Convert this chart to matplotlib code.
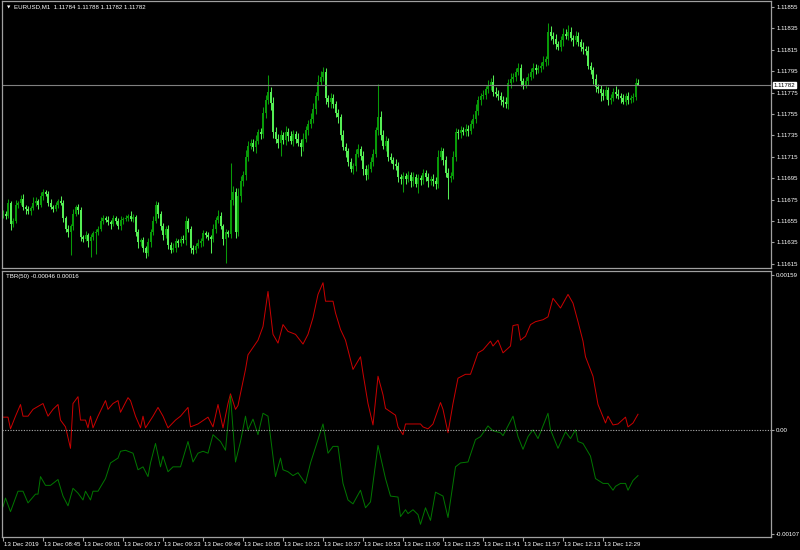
import numpy as np
import matplotlib.pyplot as plt
import matplotlib.transforms as mtransforms

plt.rcParams['font.family'] = ['Liberation Sans', 'DejaVu Sans']

# EURUSD M1, 13 Dec 2019 from 08:29 — closes in points (0.00001) above 1.11600
base_price = 1.11600
first_open_pts = 60
close_pts = [
    62, 60, 72, 52, 55, 70, 72, 76, 68, 66, 64, 67, 72, 74, 70, 78, 82, 80, 72, 68,
    66, 70, 74, 72, 58, 48, 45, 50, 62, 68, 65, 40, 38, 42, 36, 40, 44, 45, 48, 55,
    58, 56, 54, 52, 58, 55, 50, 56, 57, 58, 60, 57, 59, 45, 35, 37, 30, 25, 35, 45,
    55, 70, 62, 50, 42, 48, 33, 28, 30, 36, 34, 38, 37, 55, 48, 30, 28, 32, 34, 36,
    44, 42, 40, 38, 48, 56, 60, 50, 38, 45, 43, 75, 82, 45, 78, 92, 98, 115, 125, 128,
    124, 130, 138, 136, 156, 168, 176, 165, 138, 132, 128, 135, 131, 138, 134, 130, 136, 132, 128, 124,
    132, 140, 146, 150, 160, 172, 185, 190, 194, 170, 166, 170, 164, 156, 152, 135, 124, 120, 110, 104,
    106, 118, 122, 116, 104, 98, 104, 110, 118, 140, 152, 135, 125, 130, 115, 112, 108, 106, 96, 94,
    97, 94, 98, 92, 96, 90, 95, 93, 100, 96, 92, 94, 92, 90, 115, 120, 112, 100, 95, 97,
    115, 138, 137, 140, 138, 141, 139, 146, 150, 158, 168, 172, 173, 178, 182, 185, 176, 174, 172, 168,
    166, 164, 184, 188, 190, 194, 198, 186, 182, 186, 190, 194, 198, 196, 198, 200, 204, 206, 232, 228,
    225, 220, 218, 224, 230, 228, 232, 226, 224, 228, 222, 218, 216, 214, 200, 196, 188, 180, 178, 175,
    172, 177, 168, 170, 176, 174, 172, 170, 166, 172, 168, 170, 171, 184, 182,
]
wick_up = [
    3, 2, 4, 2, 3, 5, 2, 3, 4, 2, 3, 2, 5, 3, 2, 4, 3, 2, 3, 4,
    2, 3, 2, 4, 3, 2, 3, 2, 4, 2, 3, 3, 2, 4, 2, 3, 2, 3, 2, 4,
    3, 2, 4, 2, 3, 2, 3, 4, 2, 3, 2, 4, 3, 2, 3, 2, 3, 2, 4, 3,
    5, 4, 3, 2, 3, 2, 3, 2, 4, 3, 2, 3, 4, 5, 3, 2, 3, 2, 4, 3,
    3, 2, 3, 2, 4, 3, 5, 3, 2, 3, 2, 34, 6, 4, 8, 5, 4, 6, 5, 4,
    4, 5, 3, 4, 6, 5, 15, 4, 6, 5, 4, 5, 3, 6, 4, 5, 4, 3, 5, 4,
    5, 4, 3, 6, 5, 4, 6, 5, 5, 4, 3, 5, 4, 3, 4, 3, 5, 4, 3, 4,
    3, 4, 5, 3, 4, 3, 4, 5, 4, 3, 31, 6, 5, 4, 3, 4, 3, 5, 4, 3,
    4, 3, 4, 3, 5, 3, 4, 3, 4, 3, 4, 3, 5, 4, 6, 4, 3, 4, 5, 4,
    5, 4, 3, 4, 3, 5, 4, 3, 5, 6, 4, 3, 4, 3, 5, 4, 6, 4, 3, 4,
    4, 5, 4, 5, 3, 4, 5, 4, 3, 4, 3, 4, 5, 4, 3, 4, 5, 3, 8, 5,
    4, 5, 3, 4, 5, 4, 6, 4, 3, 5, 4, 3, 4, 3, 5, 4, 3, 4, 3, 4,
    3, 4, 3, 4, 3, 5, 4, 3, 4, 3, 4, 3, 4, 5, 4,
]
wick_dn = [
    2, 3, 2, 5, 3, 2, 3, 2, 3, 4, 2, 3, 2, 3, 4, 2, 3, 2, 3, 2,
    3, 2, 3, 2, 4, 3, 5, 22, 3, 2, 3, 4, 3, 2, 5, 15, 3, 20, 3, 2,
    3, 2, 3, 4, 2, 3, 2, 3, 4, 2, 3, 2, 3, 4, 5, 3, 4, 5, 3, 4,
    3, 2, 4, 3, 5, 3, 4, 3, 2, 4, 3, 2, 3, 4, 3, 5, 4, 3, 2, 3,
    4, 3, 3, 13, 3, 4, 3, 2, 5, 22, 3, 4, 5, 6, 4, 5, 4, 5, 4, 3,
    4, 5, 3, 4, 3, 5, 4, 6, 5, 4, 5, 12, 4, 5, 4, 3, 5, 4, 3, 8,
    4, 3, 5, 4, 3, 5, 4, 3, 4, 6, 4, 5, 3, 4, 5, 4, 3, 5, 4, 3,
    5, 4, 3, 4, 6, 5, 4, 3, 4, 3, 5, 4, 3, 5, 4, 3, 4, 3, 5, 4,
    12, 4, 3, 5, 4, 3, 9, 4, 3, 4, 5, 3, 4, 5, 4, 3, 5, 4, 19, 4,
    3, 4, 5, 4, 3, 4, 5, 3, 4, 3, 4, 5, 3, 4, 3, 5, 4, 3, 4, 5,
    4, 3, 4, 5, 3, 4, 3, 5, 4, 3, 4, 3, 5, 4, 3, 4, 3, 4, 5, 4,
    5, 4, 3, 4, 5, 3, 4, 3, 5, 4, 3, 4, 5, 4, 3, 4, 5, 4, 3, 8,
    4, 3, 5, 4, 3, 4, 3, 5, 2, 3, 4, 3, 4, 3, 0,
]

# TBR(50) buffers (bar index, points)
red_idx = [0, 2, 3, 5, 7, 8, 10, 12, 14, 16, 18, 20, 22, 23, 25, 27, 28, 30, 31, 33,
           34, 35, 36, 38, 41, 42, 44, 46, 47, 50, 51, 53, 55, 56, 57, 60, 62, 64, 66, 69,
           71, 74, 75, 78, 82, 84, 86, 88, 90, 91, 93, 94, 97, 98, 102, 104, 106, 108, 110, 112,
           114, 117, 120, 122, 124, 126, 128, 129, 132, 133, 135, 137, 140, 143, 144, 146, 148, 150, 152, 153,
           157, 158, 160, 161, 163, 167, 168, 170, 172, 175, 176, 178, 180, 182, 185, 187, 190, 192, 195, 196,
           198, 200, 203, 204, 206, 207, 209, 211, 213, 216, 218, 220, 223, 226, 228, 230, 232, 233, 236, 238,
           241, 242, 244, 246, 249, 250, 252, 254]
red_pts = [13, 13, 1, 14, 26, 14, 14, 21, 24, 27, 14, 21, 26, 10, 3, -19, 27, 34, 10, 10,
           2, 14, 2, 14, 30, 21, 27, 30, 18, 33, 30, 14, 2, 14, 2, 14, 23, 14, 2, 10,
           14, 23, 3, 6, 13, 3, 26, 2, 27, 37, 21, 25, 62, 77, 92, 106, 142, 98, 89, 108,
           101, 98, 88, 98, 115, 139, 151, 132, 132, 120, 103, 92, 62, 75, 58, 27, 5, 55, 36, 22,
           15, 3, -5, 6, 6, 6, 3, 1, 6, 28, 21, -3, 27, 53, 57, 57, 79, 82, 91, 86,
           92, 79, 86, 107, 108, 92, 96, 108, 111, 113, 116, 135, 125, 139, 130, 111, 91, 75, 55, 26,
           7, 14, 5, 6, 13, 3, 7, 16]
green_idx = [0, 1, 3, 6, 8, 10, 13, 14, 15, 17, 19, 22, 24, 26, 28, 30, 32, 33, 35, 36,
             38, 41, 43, 46, 47, 49, 52, 54, 56, 58, 59, 61, 63, 64, 66, 68, 71, 74, 76, 78,
             80, 82, 84, 87, 89, 91, 93, 95, 97, 98, 100, 102, 104, 106, 107, 109, 111, 112, 114, 116,
             118, 121, 123, 126, 128, 130, 132, 134, 136, 138, 140, 143, 145, 147, 150, 153, 155, 158, 159, 161,
             162, 164, 166, 167, 169, 171, 173, 176, 178, 181, 183, 186, 189, 191, 194, 196, 199, 200, 204, 206,
             208, 210, 212, 214, 218, 219, 222, 225, 227, 229, 230, 232, 235, 237, 240, 242, 244, 245, 247, 249,
             250, 252, 254]
green_pts = [-79, -70, -84, -63, -63, -75, -66, -66, -48, -57, -57, -51, -68, -78, -60, -65, -72, -63, -72, -63,
             -63, -50, -34, -29, -22, -21, -24, -41, -38, -48, -34, -14, -38, -27, -43, -38, -38, -12, -33, -24,
             -22, -24, -5, -12, -21, 35, -33, -12, 14, 0, 11, -5, 17, 14, -7, -48, -29, -41, -43, -47,
             -44, -55, -34, -10, 6, -24, -17, -17, -55, -72, -76, -62, -80, -74, -16, -50, -68, -69, -89, -82,
             -86, -82, -87, -97, -80, -93, -64, -68, -90, -38, -34, -33, -10, -7, 4, -1, -3, -6, 14, -7,
             -20, -7, 0, -9, 17, 0, -19, -2, -9, 0, -12, -14, -27, -50, -55, -55, -62, -58, -55, -55,
             -62, -52, -47]

price_ticks = [1.11855, 1.11835, 1.11815, 1.11795, 1.11775, 1.11755, 1.11735,
               1.11715, 1.11695, 1.11675, 1.11655, 1.11635, 1.11615]
ind_ticks = [0.00159, 0.0, -0.00107]
ind_tick_labels = ['0.00159', '0.00', '-0.00107']
time_bars = [0, 16, 32, 48, 64, 80, 96, 112, 128, 144, 160, 176, 192, 208, 224, 240]
time_labels = ['13 Dec 2019', '13 Dec 08:45', '13 Dec 09:01', '13 Dec 09:17', '13 Dec 09:33',
               '13 Dec 09:49', '13 Dec 10:05', '13 Dec 10:21', '13 Dec 10:37', '13 Dec 10:53',
               '13 Dec 11:09', '13 Dec 11:25', '13 Dec 11:41', '13 Dec 11:57', '13 Dec 12:13',
               '13 Dec 12:29']
last_price = 1.11782

# build OHLC
c = base_price + np.array(close_pts) * 1e-5
o = np.concatenate([[base_price + first_open_pts * 1e-5], c[:-1]])
h = np.maximum(o, c) + np.array(wick_up) * 1e-5
l = np.minimum(o, c) - np.array(wick_dn) * 1e-5
x = np.arange(len(c))

BG = 'black'
FRAME = '#a0a0a0'
TXT = 'white'
UP = '#089a08'
DOWN = '#55ee55'
FS = 4.4

W, H = 800, 550
fig = plt.figure(figsize=(W / 100, H / 100), dpi=100, facecolor=BG)
ax = fig.add_axes([1.5 / W, (H - 268) / H, 769.5 / W, 267 / H], facecolor=BG)
ax2 = fig.add_axes([1.5 / W, (H - 537) / H, 769.5 / W, 266 / H], facecolor=BG)

xlim = (-0.6, 307.2)

# candles
up = c >= o
col = np.where(up, UP, DOWN)
ax.vlines(x, l, h, colors=col, lw=0.75)
body = np.maximum(np.abs(c - o), 0.12e-5)
ax.bar(x, body, bottom=np.minimum(o, c), width=0.75, color=col, linewidth=0)
ax.axhline(last_price, color='#808080', lw=0.8)
ax.set_xlim(*xlim)
ax.set_ylim(1.116111, 1.118606)

ax.yaxis.tick_right()
ax.set_yticks(price_ticks)
ax.set_yticklabels([f'{p:.5f}' for p in price_ticks])
ax.set_xticks([])
ax.tick_params(axis='y', colors=FRAME, labelcolor=TXT, length=2.5, width=0.8,
               labelsize=FS, pad=1.2)
tr = mtransforms.blended_transform_factory(ax.transAxes, ax.transData)
ax.text(1.003, last_price, f'{last_price:.5f}', transform=tr, ha='left', va='center',
        fontsize=FS, color='black',
        bbox=dict(boxstyle='square,pad=0.12', fc='white', ec='white'))
ax.text(0.0075, 0.985, '\u25bc', transform=ax.transAxes, fontsize=3.2, color=TXT,
        ha='left', va='top', family='DejaVu Sans')
ax.text(0.016, 0.987, 'EURUSD,M1  1.11784 1.11788 1.11782 1.11782', transform=ax.transAxes,
        fontsize=FS, color=TXT, ha='left', va='top')

# TBR(50) sub-window
ax2.plot(red_idx, np.array(red_pts) * 1e-5, color='#cc0000', lw=0.7)
ax2.plot(green_idx, np.array(green_pts) * 1e-5, color='#007800', lw=0.7)
ax2.axhline(0, color='#b0b0b0', lw=0.8, dashes=(1, 1.4))
ax2.set_xlim(*xlim)
ax2.set_ylim(-0.00110, 0.00163)
ax2.yaxis.tick_right()
ax2.set_yticks(ind_ticks)
ax2.set_yticklabels(ind_tick_labels)
ax2.tick_params(axis='y', colors=FRAME, labelcolor=TXT, length=2.5, width=0.8,
                labelsize=FS, pad=1.2)
ax2.set_xticks(time_bars)
ax2.set_xticklabels(time_labels)
ax2.tick_params(axis='x', colors=FRAME, labelcolor=TXT, length=3, width=0.8,
                labelsize=FS, pad=0.5)
shift = mtransforms.ScaledTranslation(1.5 / 100, 0, fig.dpi_scale_trans)
for lbl in ax2.get_xticklabels():
    lbl.set_ha('left')
    lbl.set_transform(lbl.get_transform() + shift)
ax2.text(0.006, 0.988, 'TBR(50) -0.00046 0.00016', transform=ax2.transAxes,
         fontsize=FS, color=TXT, ha='left', va='top')

for a in (ax, ax2):
    for s in a.spines.values():
        s.set_color(FRAME)
        s.set_linewidth(0.9)

fig.savefig('out.png', dpi=100, facecolor=BG)
